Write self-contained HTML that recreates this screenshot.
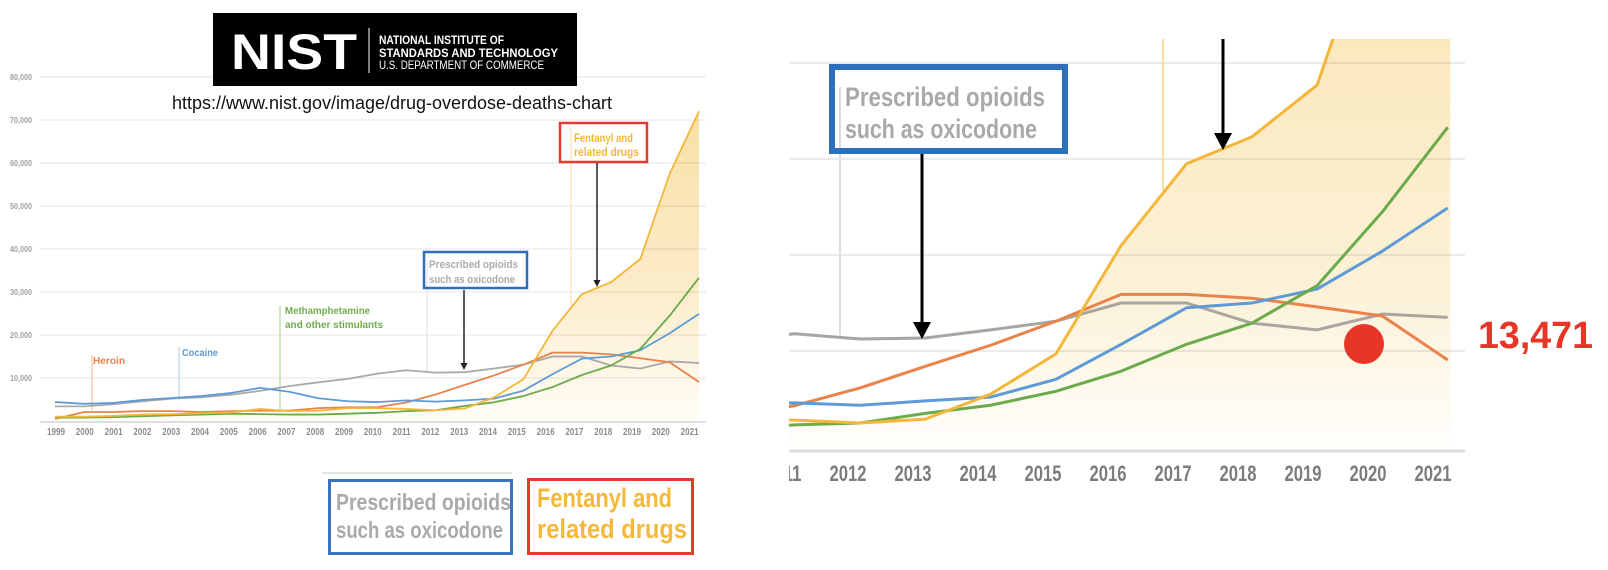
<!DOCTYPE html>
<html><head><meta charset="utf-8"><style>
html,body{margin:0;padding:0;background:#fff;width:1608px;height:570px;overflow:hidden}
svg{display:block}
.c{font-family:"Liberation Sans Narrow","Liberation Sans",sans-serif;font-weight:bold}
.s{font-family:"Liberation Sans",sans-serif}
</style></head><body>
<svg width="1608" height="570" viewBox="0 0 1608 570" xmlns="http://www.w3.org/2000/svg">
<defs>
<linearGradient id="gl" gradientUnits="userSpaceOnUse" x1="0" y1="75" x2="0" y2="0">
<stop offset="0" stop-color="#f8dfa2"/><stop offset="0.55" stop-color="#fbebc6"/><stop offset="1" stop-color="#fffdf7"/>
</linearGradient>
<linearGradient id="gr" gradientUnits="userSpaceOnUse" x1="0" y1="42" x2="0" y2="0">
<stop offset="0" stop-color="#fbe9be"/><stop offset="0.6" stop-color="#fcf1d7"/><stop offset="1" stop-color="#fffefb"/>
</linearGradient>
<clipPath id="rc"><rect x="789" y="39" width="680" height="460"/></clipPath>
</defs>

<!-- ===== LEFT CHART ===== -->
<g transform="translate(55,421) scale(29.27,-4.3)">
<polygon fill="url(#gl)" points="0,1.0 1,1.0 2,1.2 3,1.5 4,1.6 5,1.8 6,2.0 7,2.8 8,2.3 9,2.4 10,3.0 11,3.0 12,2.8 13,2.5 14,2.9 15,5.5 16,9.7 17,21 18,29.5 19,32.3 20,37.7 21,57.5 22,72 22,0 0,0"/>
</g>
<g stroke="rgba(0,0,0,0.07)" stroke-width="1.5">
<line x1="40" y1="77" x2="706" y2="77"/><line x1="40" y1="120" x2="706" y2="120"/>
<line x1="40" y1="163" x2="706" y2="163"/><line x1="40" y1="206" x2="706" y2="206"/>
<line x1="40" y1="249" x2="706" y2="249"/><line x1="40" y1="292" x2="706" y2="292"/>
<line x1="40" y1="335" x2="706" y2="335"/><line x1="40" y1="378" x2="706" y2="378"/>
</g>
<line x1="40" y1="422" x2="706" y2="422" stroke="#dedede" stroke-width="2"/>
<g class="c" font-size="8" fill="#a0a0a0">
<text x="10" y="80" textLength="22" lengthAdjust="spacingAndGlyphs">80,000</text>
<text x="10" y="123" textLength="22" lengthAdjust="spacingAndGlyphs">70,000</text>
<text x="10" y="166" textLength="22" lengthAdjust="spacingAndGlyphs">60,000</text>
<text x="10" y="209" textLength="22" lengthAdjust="spacingAndGlyphs">50,000</text>
<text x="10" y="252" textLength="22" lengthAdjust="spacingAndGlyphs">40,000</text>
<text x="10" y="295" textLength="22" lengthAdjust="spacingAndGlyphs">30,000</text>
<text x="10" y="338" textLength="22" lengthAdjust="spacingAndGlyphs">20,000</text>
<text x="10" y="381" textLength="22" lengthAdjust="spacingAndGlyphs">10,000</text>
</g>
<g class="c" font-size="10" fill="#8c8c8c">
<text x="47" y="435" textLength="18" lengthAdjust="spacingAndGlyphs">1999</text>
<text x="75.8" y="435" textLength="18" lengthAdjust="spacingAndGlyphs">2000</text>
<text x="104.6" y="435" textLength="18" lengthAdjust="spacingAndGlyphs">2001</text>
<text x="133.4" y="435" textLength="18" lengthAdjust="spacingAndGlyphs">2002</text>
<text x="162.2" y="435" textLength="18" lengthAdjust="spacingAndGlyphs">2003</text>
<text x="191" y="435" textLength="18" lengthAdjust="spacingAndGlyphs">2004</text>
<text x="219.8" y="435" textLength="18" lengthAdjust="spacingAndGlyphs">2005</text>
<text x="248.6" y="435" textLength="18" lengthAdjust="spacingAndGlyphs">2006</text>
<text x="277.4" y="435" textLength="18" lengthAdjust="spacingAndGlyphs">2007</text>
<text x="306.2" y="435" textLength="18" lengthAdjust="spacingAndGlyphs">2008</text>
<text x="335" y="435" textLength="18" lengthAdjust="spacingAndGlyphs">2009</text>
<text x="363.8" y="435" textLength="18" lengthAdjust="spacingAndGlyphs">2010</text>
<text x="392.6" y="435" textLength="18" lengthAdjust="spacingAndGlyphs">2011</text>
<text x="421.4" y="435" textLength="18" lengthAdjust="spacingAndGlyphs">2012</text>
<text x="450.2" y="435" textLength="18" lengthAdjust="spacingAndGlyphs">2013</text>
<text x="479" y="435" textLength="18" lengthAdjust="spacingAndGlyphs">2014</text>
<text x="507.8" y="435" textLength="18" lengthAdjust="spacingAndGlyphs">2015</text>
<text x="536.6" y="435" textLength="18" lengthAdjust="spacingAndGlyphs">2016</text>
<text x="565.4" y="435" textLength="18" lengthAdjust="spacingAndGlyphs">2017</text>
<text x="594.2" y="435" textLength="18" lengthAdjust="spacingAndGlyphs">2018</text>
<text x="623" y="435" textLength="18" lengthAdjust="spacingAndGlyphs">2019</text>
<text x="651.8" y="435" textLength="18" lengthAdjust="spacingAndGlyphs">2020</text>
<text x="680.6" y="435" textLength="18" lengthAdjust="spacingAndGlyphs">2021</text>
</g>
<!-- annotation verticals -->
<line x1="92" y1="355" x2="92" y2="410" stroke="#f4b58a" stroke-width="1"/>
<line x1="179" y1="347" x2="179" y2="397" stroke="#a9c8ea" stroke-width="1"/>
<line x1="280" y1="306" x2="280" y2="412" stroke="#a6cf8a" stroke-width="1"/>
<line x1="427" y1="260" x2="427" y2="371" stroke="#dddddd" stroke-width="1"/>
<line x1="571" y1="127" x2="571" y2="305" stroke="#f8dc9a" stroke-width="1"/>
<!-- series -->
<g transform="translate(55,421) scale(29.27,-4.3)" fill="none" stroke-linejoin="round">
<polyline vector-effect="non-scaling-stroke" stroke="#a9a9a9" stroke-width="1.8" points="0,3.4 1,3.4 2,3.9 3,4.6 4,5.2 5,5.5 6,6.1 7,7.0 8,8.1 9,9.0 10,9.8 11,11.0 12,11.8 13,11.25 14,11.35 15,12.2 16,13.1 17,15.0 18,15.0 19,12.9 20,12.2 21,13.85 22,13.5"/>
<polyline vector-effect="non-scaling-stroke" stroke="#e9834a" stroke-width="1.8" points="0,0.5 1,2.1 2,2.1 3,2.3 4,2.3 5,2.1 6,2.3 7,2.4 8,2.4 9,3.0 10,3.2 11,3.2 12,4.3 13,6.15 14,8.4 15,10.6 16,13.1 17,15.9 18,15.9 19,15.5 20,14.6 21,13.65 22,9.06"/>
<polyline vector-effect="non-scaling-stroke" stroke="#5e9bd6" stroke-width="1.8" points="0,4.4 1,4.0 2,4.2 3,4.9 4,5.35 5,5.8 6,6.5 7,7.7 8,6.8 9,5.3 10,4.6 11,4.4 12,4.8 13,4.5 14,4.8 15,5.2 16,7.05 17,10.9 18,14.5 19,15.0 20,16.45 21,20.4 22,24.9"/>
<polyline vector-effect="non-scaling-stroke" stroke="#6cab4b" stroke-width="1.8" points="0,0.8 1,0.8 2,0.9 3,1.1 4,1.3 5,1.5 6,1.7 7,1.6 8,1.5 9,1.5 10,1.7 11,1.9 12,2.3 13,2.5 14,3.5 15,4.35 16,5.8 17,7.9 18,10.7 19,12.9 20,16.8 21,24.5 22,33.3"/>
<polyline vector-effect="non-scaling-stroke" stroke="#f4b63b" stroke-width="1.8" points="0,1.0 1,1.0 2,1.2 3,1.5 4,1.6 5,1.8 6,2.0 7,2.8 8,2.3 9,2.4 10,3.0 11,3.0 12,2.8 13,2.5 14,2.9 15,5.5 16,9.7 17,21 18,29.5 19,32.3 20,37.7 21,57.5 22,72"/>
</g>
<!-- labels -->
<g class="c" font-size="10">
<text x="93" y="364" fill="#e8844a" textLength="32" lengthAdjust="spacingAndGlyphs">Heroin</text>
<text x="182" y="356" fill="#5f9bd8" textLength="36" lengthAdjust="spacingAndGlyphs">Cocaine</text>
<text x="285" y="314" fill="#6fae4c" textLength="85" lengthAdjust="spacingAndGlyphs">Methamphetamine</text>
<text x="285" y="328" fill="#6fae4c" textLength="98" lengthAdjust="spacingAndGlyphs">and other stimulants</text>
</g>
<rect x="424" y="252" width="103" height="36" fill="none" stroke="#2f6fba" stroke-width="2.5"/>
<g class="c" font-size="11" fill="#ababab">
<text x="429" y="268" textLength="89" lengthAdjust="spacingAndGlyphs">Prescribed opioids</text>
<text x="429" y="283" textLength="86" lengthAdjust="spacingAndGlyphs">such as oxicodone</text>
</g>
<rect x="560" y="123" width="87" height="39" fill="none" stroke="#e53b2f" stroke-width="2.5"/>
<g class="c" font-size="12" fill="#f5b83c">
<text x="574" y="142" textLength="59" lengthAdjust="spacingAndGlyphs">Fentanyl and</text>
<text x="574" y="156" textLength="65" lengthAdjust="spacingAndGlyphs">related drugs</text>
</g>
<line x1="464" y1="290" x2="464" y2="364" stroke="#222" stroke-width="1.5"/>
<polygon points="460.5,363 467.5,363 464,370" fill="#222"/>
<line x1="597" y1="163" x2="597" y2="281" stroke="#222" stroke-width="1.5"/>
<polygon points="593.5,280 600.5,280 597,287" fill="#222"/>

<!-- NIST logo -->
<rect x="213" y="13" width="364" height="73" fill="#000"/>
<text class="s" x="231" y="69" font-size="50" font-weight="bold" fill="#fff" textLength="126" lengthAdjust="spacingAndGlyphs">NIST</text>
<line x1="369" y1="28" x2="369" y2="73" stroke="#fff" stroke-width="1"/>
<g class="s" fill="#fff" font-size="11.5">
<text x="379" y="44" font-weight="bold" textLength="125" lengthAdjust="spacingAndGlyphs">NATIONAL INSTITUTE OF</text>
<text x="379" y="57" font-weight="bold" textLength="179" lengthAdjust="spacingAndGlyphs">STANDARDS AND TECHNOLOGY</text>
<text x="379" y="69" textLength="165" lengthAdjust="spacingAndGlyphs">U.S. DEPARTMENT OF COMMERCE</text>
</g>
<text class="s" x="172" y="109" font-size="18" fill="#111" textLength="440" lengthAdjust="spacingAndGlyphs">https://www.nist.gov/image/drug-overdose-deaths-chart</text>

<!-- bottom boxes -->
<line x1="322" y1="473" x2="512" y2="473" stroke="#e5e5e5" stroke-width="2"/>
<rect x="329.5" y="480.5" width="182" height="73" fill="none" stroke="#3a73c2" stroke-width="3"/>
<g class="c" font-size="23" fill="#aaaaaa">
<text x="336" y="510" textLength="175" lengthAdjust="spacingAndGlyphs">Prescribed opioids</text>
<text x="336" y="538" textLength="167" lengthAdjust="spacingAndGlyphs">such as oxicodone</text>
</g>
<rect x="528.5" y="479.5" width="164" height="74" fill="none" stroke="#e53b2f" stroke-width="3"/>
<g class="c" font-size="27" fill="#f5b83a">
<text x="537" y="507" textLength="135" lengthAdjust="spacingAndGlyphs">Fentanyl and</text>
<text x="537" y="538" textLength="150" lengthAdjust="spacingAndGlyphs">related drugs</text>
</g>

<!-- ===== RIGHT CHART ===== -->
<g clip-path="url(#rc)">
<g transform="translate(11.1,447) scale(65.3,-9.6)">
<polygon fill="url(#gr)" points="0,1.0 1,1.0 2,1.2 3,1.5 4,1.6 5,1.8 6,2.0 7,2.8 8,2.3 9,2.4 10,3.0 11,3.0 12,2.8 13,2.5 14,2.9 15,5.5 16,9.7 17,21 18,29.5 19,32.3 20,37.7 21,57.5 22,72 22.04,72 22.04,0 0,0"/>
</g>
<g stroke="rgba(0,0,0,0.08)" stroke-width="2">
<line x1="789" y1="63" x2="1465" y2="63"/>
<line x1="789" y1="159" x2="1465" y2="159"/>
<line x1="789" y1="255" x2="1465" y2="255"/>
<line x1="789" y1="351" x2="1465" y2="351"/>
</g>
<line x1="789" y1="451" x2="1465" y2="451" stroke="#dcdcdc" stroke-width="3"/>
<line x1="840" y1="87" x2="840" y2="335" stroke="#dddddd" stroke-width="2"/>
<line x1="1163" y1="39" x2="1163" y2="190" stroke="#f8dc9a" stroke-width="2"/>
<g transform="translate(11.1,447) scale(65.3,-9.6)" fill="none" stroke-linejoin="round">
<polyline vector-effect="non-scaling-stroke" stroke="#aaa5a0" stroke-width="3" points="0,3.4 1,3.4 2,3.9 3,4.6 4,5.2 5,5.5 6,6.1 7,7.0 8,8.1 9,9.0 10,9.8 11,11.0 12,11.8 13,11.25 14,11.35 15,12.2 16,13.1 17,15.0 18,15.0 19,12.9 20,12.2 21,13.85 22,13.5"/>
<polyline vector-effect="non-scaling-stroke" stroke="#e9834a" stroke-width="3" points="0,0.5 1,2.1 2,2.1 3,2.3 4,2.3 5,2.1 6,2.3 7,2.4 8,2.4 9,3.0 10,3.2 11,3.2 12,4.3 13,6.15 14,8.4 15,10.6 16,13.1 17,15.9 18,15.9 19,15.5 20,14.6 21,13.65 22,9.06"/>
<polyline vector-effect="non-scaling-stroke" stroke="#5e9bd6" stroke-width="3" points="0,4.4 1,4.0 2,4.2 3,4.9 4,5.35 5,5.8 6,6.5 7,7.7 8,6.8 9,5.3 10,4.6 11,4.4 12,4.6 13,4.35 14,4.8 15,5.2 16,7.05 17,10.7 18,14.5 19,15.0 20,16.45 21,20.4 22,24.9"/>
<polyline vector-effect="non-scaling-stroke" stroke="#6cab4b" stroke-width="3" points="0,0.8 1,0.8 2,0.9 3,1.1 4,1.3 5,1.5 6,1.7 7,1.6 8,1.5 9,1.5 10,1.7 11,1.9 12,2.3 13,2.5 14,3.5 15,4.35 16,5.8 17,7.9 18,10.7 19,12.9 20,16.8 21,24.5 22,33.3"/>
<polyline vector-effect="non-scaling-stroke" stroke="#f4b63b" stroke-width="3" points="0,1.0 1,1.0 2,1.2 3,1.5 4,1.6 5,1.8 6,2.0 7,2.8 8,2.3 9,2.4 10,3.0 11,3.0 12,2.8 13,2.5 14,2.9 15,5.5 16,9.7 17,21 18,29.5 19,32.3 20,37.7 21,57.5 22,72"/>
</g>
<g class="c" font-size="22" fill="#7c7c7c">
<text x="764.5" y="481" textLength="37" lengthAdjust="spacingAndGlyphs">2011</text>
<text x="829.5" y="481" textLength="37" lengthAdjust="spacingAndGlyphs">2012</text>
<text x="894.5" y="481" textLength="37" lengthAdjust="spacingAndGlyphs">2013</text>
<text x="959.5" y="481" textLength="37" lengthAdjust="spacingAndGlyphs">2014</text>
<text x="1024.5" y="481" textLength="37" lengthAdjust="spacingAndGlyphs">2015</text>
<text x="1089.5" y="481" textLength="37" lengthAdjust="spacingAndGlyphs">2016</text>
<text x="1154.5" y="481" textLength="37" lengthAdjust="spacingAndGlyphs">2017</text>
<text x="1219.5" y="481" textLength="37" lengthAdjust="spacingAndGlyphs">2018</text>
<text x="1284.5" y="481" textLength="37" lengthAdjust="spacingAndGlyphs">2019</text>
<text x="1349.5" y="481" textLength="37" lengthAdjust="spacingAndGlyphs">2020</text>
<text x="1414.5" y="481" textLength="37" lengthAdjust="spacingAndGlyphs">2021</text>
</g>
<line x1="1223" y1="39" x2="1223" y2="136" stroke="#000" stroke-width="3"/>
<polygon points="1214,133 1232,133 1223,150" fill="#000"/>
</g>
<rect x="832" y="67" width="233" height="84" fill="none" stroke="#2f6eba" stroke-width="6"/>
<g class="c" font-size="27" fill="#a9a9a9">
<text x="845" y="106" textLength="200" lengthAdjust="spacingAndGlyphs">Prescribed opioids</text>
<text x="845" y="138" textLength="192" lengthAdjust="spacingAndGlyphs">such as oxicodone</text>
</g>
<line x1="922" y1="154" x2="922" y2="324" stroke="#000" stroke-width="3"/>
<polygon points="913,322 931,322 922,339" fill="#000"/>
<circle cx="1364" cy="344" r="20" fill="#e73628"/>
<text class="s" x="1478" y="348" font-size="38" font-weight="bold" fill="#e73628" textLength="115" lengthAdjust="spacingAndGlyphs">13,471</text>
</svg>
</body></html>
